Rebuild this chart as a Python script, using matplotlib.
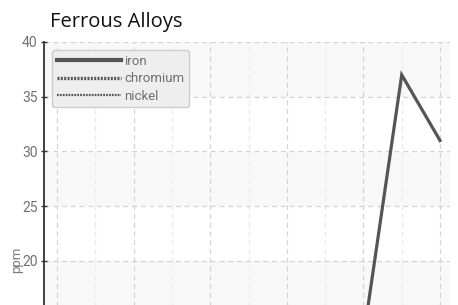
import matplotlib.pyplot as plt
from matplotlib.ticker import MultipleLocator

# readings per sample (only the top of the chart is visible)
samples = list(range(11))
iron = [3, 5, 4, 6, 8, 7, 9, 6, 13, 37, 31]
chromium = [2, 3, 2.5, 4, 3, 5, 4, 6, 5, 7, 6]
nickel = [1, 2, 1.5, 2, 3, 2.5, 3, 4, 3, 4, 5]
y_ticks = [20, 25, 30, 35, 40]

fig = plt.figure(figsize=(4.58, 3.05), dpi=100)
# axes run past the bottom edge of the picture, like the original crop
ax = fig.add_axes([44 / 458, 1 - 480 / 305, 406 / 458, (480 - 42) / 305])

for lo in [35, 25, 15, 5]:
    ax.axhspan(lo, lo + 5, color="#f8f8f8", zorder=0, lw=0)

ax.plot(samples, iron, color="#555555", lw=2.3, label="iron", zorder=3,
        solid_joinstyle="miter")
ax.plot(samples, chromium, color="#555555", lw=2.3, ls=(0, (0.6, 0.4)),
        label="chromium", zorder=3)
ax.plot(samples, nickel, color="#555555", lw=1.5, ls=(0, (0.8, 0.5)),
        label="nickel", zorder=3)

ax.set_xlim(-0.34, 10.26)
ax.set_ylim(0, 40)
ax.set_yticks(y_ticks)
ax.xaxis.set_major_locator(MultipleLocator(2))
ax.xaxis.set_minor_locator(MultipleLocator(1))

ax.grid(axis="y", color="#d4d4d4", ls=(0, (4, 3)), lw=0.9, zorder=1)
ax.grid(axis="x", which="major", color="#d4d4d4", ls=(0, (4, 3)), lw=0.9, zorder=1)
ax.grid(axis="x", which="minor", color="#ebebeb", ls=(0, (4, 3)), lw=0.9, zorder=1)

for s in ["top", "right", "bottom"]:
    ax.spines[s].set_visible(False)
ax.spines["left"].set_color("#333333")
ax.spines["left"].set_linewidth(1.3)
ax.tick_params(axis="y", direction="inout", length=5, width=1, color="#333333",
               labelcolor="#707070", labelsize=10, pad=2)
for lab in ax.get_yticklabels():
    lab.set_family("Roboto")
ax.tick_params(axis="x", which="both", length=0, labelbottom=False)

fig.text(17 / 458, 1 - 260 / 305, "ppm", color="#7a7a7a", fontsize=9.5, family="Roboto",
         rotation=90, ha="center", va="center")

fig.text(50 / 458, 1 - 26.5 / 305, "Ferrous Alloys", fontsize=14.5, family="Open Sans",
         color="#111111", va="baseline", ha="left")

leg = ax.legend(loc="upper left", bbox_to_anchor=(8 / 406, 1 - 8 / 438),
                frameon=True, fancybox=True, handlelength=4.9, handletextpad=0.2,
                labelspacing=0.35, borderpad=0.35, borderaxespad=0,
                prop={"family": "Roboto", "size": 9.5})
leg.get_frame().set_facecolor("#eeeeee")
leg.get_frame().set_edgecolor("#cccccc")
leg.get_frame().set_alpha(1)
lines = leg.get_lines()
lines[0].set_linewidth(3)
lines[1].set_linewidth(2.4)
lines[2].set_linewidth(1.6)
for t in leg.get_texts():
    t.set_color("#707070")

fig.savefig("out.png", dpi=100)
